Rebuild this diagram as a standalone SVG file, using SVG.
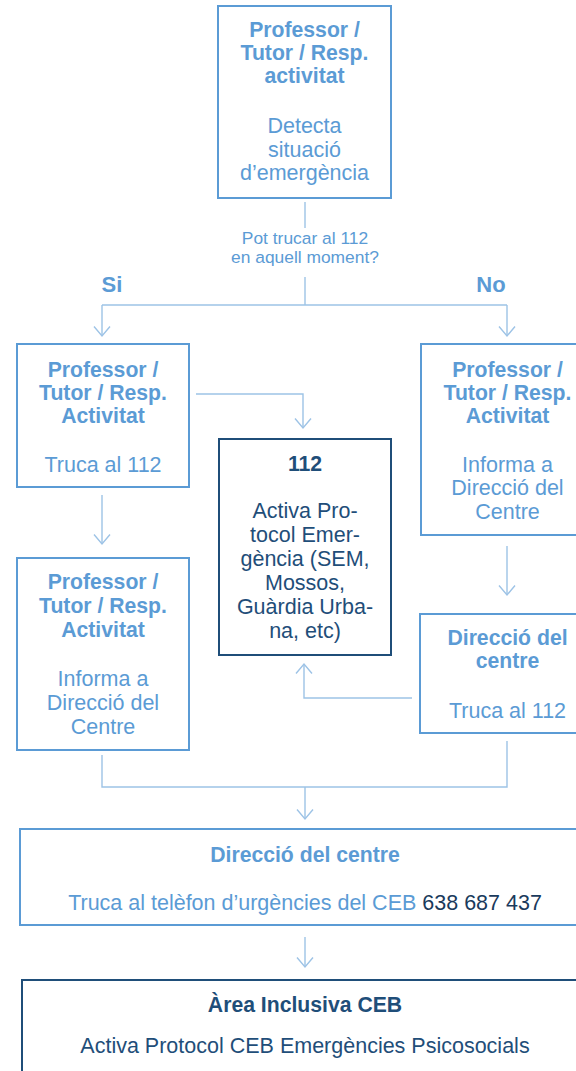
<svg xmlns="http://www.w3.org/2000/svg" width="576" height="1071" viewBox="0 0 576 1071">
<style>
.box{fill:#ffffff;stroke:#5b9bd5;stroke-width:2}
.dbox{fill:#ffffff;stroke:#1f4e79;stroke-width:2}
.t{font-family:"Liberation Sans",Arial,sans-serif;font-size:21.5px;fill:#5b9bd5;text-anchor:middle}
.b{font-weight:bold;font-size:21.2px}
.d{fill:#1f4e79}
.n{fill:#1a3a5c}
.q{font-size:17.4px}
.c{fill:none;stroke:#9dc3e6;stroke-width:1.4}
.ah{fill:none;stroke:#9dc3e6;stroke-width:1.4}
</style>
<defs>
<marker id="arr" markerUnits="userSpaceOnUse" markerWidth="24" markerHeight="24" viewBox="-12 -12 24 24" refX="0" refY="0" orient="auto" overflow="visible">
<path class="ah" d="M-9.5,-8 L0,0 L-9.5,8"/>
</marker>
</defs>
<rect width="576" height="1071" fill="#ffffff"/>
<g id="connectors">
<line class="c" x1="305" y1="202" x2="305" y2="228"/>
<line class="c" x1="305" y1="277" x2="305" y2="305"/>
<line class="c" x1="102" y1="305" x2="507" y2="305"/>
<line class="c" x1="102" y1="305" x2="102" y2="336" marker-end="url(#arr)"/>
<line class="c" x1="507" y1="305" x2="507" y2="336" marker-end="url(#arr)"/>
<polyline class="c" points="196,394 303,394 303,428" marker-end="url(#arr)"/>
<line class="c" x1="102" y1="495" x2="102" y2="544" marker-end="url(#arr)"/>
<line class="c" x1="507" y1="546" x2="507" y2="595" marker-end="url(#arr)"/>
<polyline class="c" points="412,698 304,698 304,664" marker-end="url(#arr)"/>
<polyline class="c" points="102,755 102,787 507,787 507,741"/>
<line class="c" x1="305" y1="787" x2="305" y2="819" marker-end="url(#arr)"/>
<line class="c" x1="305" y1="937" x2="305" y2="967" marker-end="url(#arr)"/>
</g>
<g id="n-detecta">
<rect class="box" x="218" y="6" width="173" height="192"/>
<text class="t b" x="304.5" y="37">Professor /</text>
<text class="t b" x="304.5" y="60">Tutor / Resp.</text>
<text class="t b" x="304.5" y="83">activitat</text>
<text class="t" x="304.5" y="133">Detecta</text>
<text class="t" x="304.5" y="157">situació</text>
<text class="t" x="304.5" y="180">d’emergència</text>
</g>
<g id="question">
<text class="t q" x="305" y="244">Pot trucar al 112</text>
<text class="t q" x="305" y="262.5">en aquell moment?</text>
</g>
<g id="label-si"><text class="t b" x="112" y="292" style="font-size:22px">Si</text></g>
<g id="label-no"><text class="t b" x="491" y="292" style="font-size:22px">No</text></g>
<g id="n-truca-left">
<rect class="box" x="17" y="344" width="172" height="143"/>
<text class="t b" x="103" y="377">Professor /</text>
<text class="t b" x="103" y="400">Tutor / Resp.</text>
<text class="t b" x="103" y="423">Activitat</text>
<text class="t" x="103" y="472">Truca al 112</text>
</g>
<g id="n-informa-right">
<rect class="box" x="421" y="344" width="173" height="191"/>
<text class="t b" x="507.5" y="377">Professor /</text>
<text class="t b" x="507.5" y="400">Tutor / Resp.</text>
<text class="t b" x="507.5" y="423">Activitat</text>
<text class="t" x="507.5" y="472">Informa a</text>
<text class="t" x="507.5" y="495">Direcció del</text>
<text class="t" x="507.5" y="519">Centre</text>
</g>
<g id="n-112">
<rect class="dbox" x="219" y="439" width="172" height="216"/>
<text class="t b d" x="305" y="471">112</text>
<text class="t d" x="305" y="518">Activa Pro-</text>
<text class="t d" x="305" y="542">tocol Emer-</text>
<text class="t d" x="305" y="566">gència (SEM,</text>
<text class="t d" x="305" y="590">Mossos,</text>
<text class="t d" x="305" y="614">Guàrdia Urba-</text>
<text class="t d" x="305" y="638">na, etc)</text>
</g>
<g id="n-informa-left">
<rect class="box" x="17" y="558" width="172" height="192"/>
<text class="t b" x="103" y="589">Professor /</text>
<text class="t b" x="103" y="613">Tutor / Resp.</text>
<text class="t b" x="103" y="637">Activitat</text>
<text class="t" x="103" y="686">Informa a</text>
<text class="t" x="103" y="710">Direcció del</text>
<text class="t" x="103" y="734">Centre</text>
</g>
<g id="n-direccio-right">
<rect class="box" x="420" y="614" width="174" height="119"/>
<text class="t b" x="507.5" y="645">Direcció del</text>
<text class="t b" x="507.5" y="668">centre</text>
<text class="t" x="507.5" y="718">Truca al 112</text>
</g>
<g id="n-direccio-ceb">
<rect class="box" x="20" y="829" width="570" height="96"/>
<text class="t b" x="305" y="862">Direcció del centre</text>
<text class="t" x="305" y="910">Truca al telèfon d’urgències del CEB <tspan class="n">638 687 437</tspan></text>
</g>
<g id="n-area-inclusiva">
<rect class="dbox" x="22" y="980" width="570" height="110"/>
<text class="t b d" x="305" y="1012">Àrea Inclusiva CEB</text>
<text class="t d" x="305" y="1053">Activa Protocol CEB Emergències Psicosocials</text>
</g>
</svg>
